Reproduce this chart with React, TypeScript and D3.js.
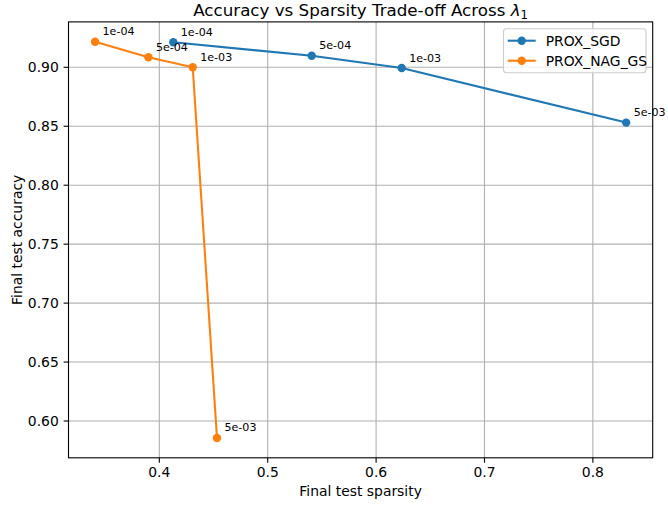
import React from "react";
import * as d3 from "d3";

// Regularisation strengths annotated on each point
const lambdaLabels = ["1e-04", "5e-04", "1e-03", "5e-03"];

// PROX_SGD: final test sparsity / accuracy per lambda
const sgdSparsity = [0.4129, 0.5406, 0.6236, 0.8307];
const sgdAccuracy = [0.9212, 0.9098, 0.8994, 0.8531];

// PROX_NAG_GS: final test sparsity / accuracy per lambda
const nagSparsity = [0.3407, 0.3899, 0.4308, 0.4532];
const nagAccuracy = [0.9217, 0.9085, 0.9, 0.5856];

const xTicks = [0.4, 0.5, 0.6, 0.7, 0.8];
const yTicks = [0.6, 0.65, 0.7, 0.75, 0.8, 0.85, 0.9];

const seriesNames = ["PROX_SGD", "PROX_NAG_GS"];
const seriesColors = ["#1f77b4", "#ff7f0e"];

const W = 668;
const H = 506;
const FONT = "'DejaVu Sans', sans-serif";

export default function App() {
  const left = 68.5;
  const right = 652.7;
  const top = 21.9;
  const bottom = 457.8;

  const allX = [...sgdSparsity, ...nagSparsity];
  const allY = [...sgdAccuracy, ...nagAccuracy];
  const [x0, x1] = d3.extent(allX) as [number, number];
  const [y0, y1] = d3.extent(allY) as [number, number];
  const mx = (x1 - x0) * 0.05;
  const my = (y1 - y0) * 0.05;

  const x = d3.scaleLinear().domain([x0 - mx, x1 + mx]).range([left, right]);
  const y = d3.scaleLinear().domain([y0 - my, y1 + my]).range([bottom, top]);

  const series = [
    { name: seriesNames[0], color: seriesColors[0], xs: sgdSparsity, ys: sgdAccuracy },
    { name: seriesNames[1], color: seriesColors[1], xs: nagSparsity, ys: nagAccuracy },
  ];

  const line = d3
    .line<[number, number]>()
    .x((d) => x(d[0]))
    .y((d) => y(d[1]));

  const legX = 503.5;
  const legY = 28.7;

  return (
    <svg
      width={W}
      height={H}
      style={{ position: "absolute", left: 0, top: 0, background: "#fff" }}
      fontFamily={FONT}
    >
      <rect x={0} y={0} width={W} height={H} fill="#fff" />
      {/* grid */}
      {xTicks.map((t) => (
        <line key={"gx" + t} x1={x(t)} x2={x(t)} y1={top} y2={bottom} stroke="#b0b0b0" strokeWidth={1.1} />
      ))}
      {yTicks.map((t) => (
        <line key={"gy" + t} x1={left} x2={right} y1={y(t)} y2={y(t)} stroke="#b0b0b0" strokeWidth={1.1} />
      ))}

      {/* series */}
      {series.map((s) => {
        const pts = s.xs.map((v, i) => [v, s.ys[i]] as [number, number]);
        return (
          <g key={s.name}>
            <path d={line(pts) || ""} fill="none" stroke={s.color} strokeWidth={2.08} />
            {pts.map((p, i) => (
              <circle key={i} cx={x(p[0])} cy={y(p[1])} r={4.2} fill={s.color} />
            ))}
            {pts.map((p, i) => (
              <text key={"l" + i} x={x(p[0]) + 7.5} y={y(p[1]) - 6.5} fontSize={11.1} fill="#000">
                {lambdaLabels[i]}
              </text>
            ))}
          </g>
        );
      })}

      {/* spines */}
      <rect x={left} y={top} width={right - left} height={bottom - top} fill="none" stroke="#000" strokeWidth={1.1} />

      {/* x ticks */}
      {xTicks.map((t) => (
        <g key={"tx" + t}>
          <line x1={x(t)} x2={x(t)} y1={bottom} y2={bottom + 4.9} stroke="#000" strokeWidth={1.1} />
          <text x={x(t)} y={bottom + 19.5} fontSize={13.9} textAnchor="middle" fill="#000">
            {t.toFixed(1)}
          </text>
        </g>
      ))}
      {/* y ticks */}
      {yTicks.map((t) => (
        <g key={"ty" + t}>
          <line x1={left - 4.9} x2={left} y1={y(t)} y2={y(t)} stroke="#000" strokeWidth={1.1} />
          <text x={left - 9.7} y={y(t) + 5} fontSize={13.9} textAnchor="end" fill="#000">
            {t.toFixed(2)}
          </text>
        </g>
      ))}

      {/* axis labels */}
      <text x={(left + right) / 2} y={496} fontSize={13.9} textAnchor="middle" fill="#000">
        Final test sparsity
      </text>
      <text
        transform={`translate(22,${(top + bottom) / 2}) rotate(-90)`}
        fontSize={13.9}
        textAnchor="middle"
        fill="#000"
      >
        Final test accuracy
      </text>

      {/* title */}
      <text x={(left + right) / 2} y={16} fontSize={16.7} textAnchor="middle" fill="#000">
        Accuracy vs Sparsity Trade-off Across{" "}
        <tspan fontStyle="italic">λ</tspan>
        <tspan fontSize={11.7} dy={3}>1</tspan>
      </text>

      {/* legend */}
      <rect
        x={legX}
        y={legY}
        width={142.5}
        height={44}
        rx={3}
        fill="#fff"
        fillOpacity={0.8}
        stroke="#cccccc"
        strokeWidth={1.1}
      />
      {series.map((s, i) => (
        <g key={"leg" + s.name} transform={`translate(0,${40.7 + i * 20})`}>
          <line x1={507.7} x2={535.7} y1={0} y2={0} stroke={s.color} strokeWidth={2.08} />
          <circle cx={521.7} cy={0} r={4.2} fill={s.color} />
          <text x={545.7} y={5} fontSize={13.9} fill="#000">
            {s.name}
          </text>
        </g>
      ))}
    </svg>
  );
}
